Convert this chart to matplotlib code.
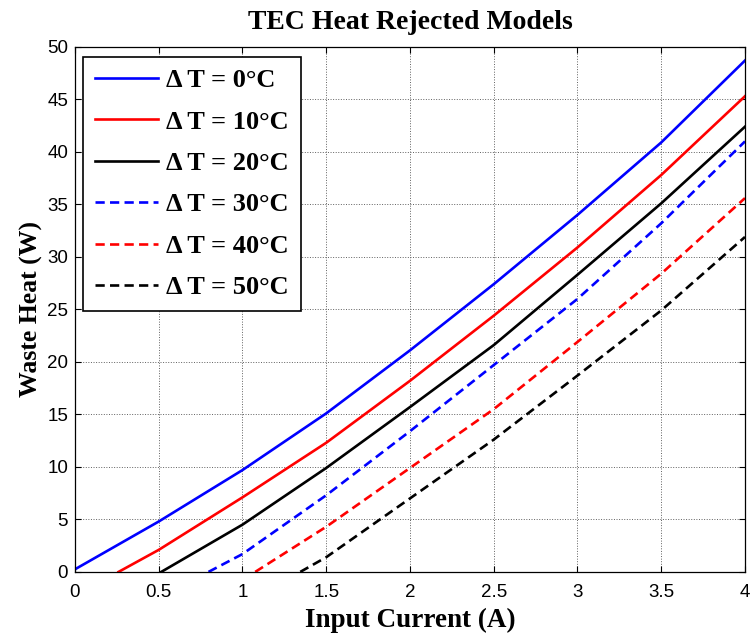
import matplotlib.pyplot as plt

# input current (A) and waste heat (W) for each temperature difference
dT_labels = ['Δ T = 0°C', 'Δ T = 10°C', 'Δ T = 20°C',
             'Δ T = 30°C', 'Δ T = 40°C', 'Δ T = 50°C']

i_0 = [0.0, 0.5, 1.0, 1.5, 2.0, 2.5, 3.0, 3.5, 4.0]
q_0 = [0.25, 4.8, 9.7, 15.1, 21.1, 27.4, 34.0, 40.9, 48.7]

i_10 = [0.26, 0.5, 1.0, 1.5, 2.0, 2.5, 3.0, 3.5, 4.0]
q_10 = [0.0, 2.1, 7.1, 12.3, 18.2, 24.4, 30.9, 37.8, 45.3]

i_20 = [0.515, 1.0, 1.5, 2.0, 2.5, 3.0, 3.5, 4.0]
q_20 = [0.0, 4.5, 9.9, 15.7, 21.6, 28.3, 35.1, 42.4]

i_30 = [0.797, 1.0, 1.5, 2.0, 2.5, 3.0, 3.5, 3.75, 4.0]
q_30 = [0.0, 1.7, 7.3, 13.4, 19.7, 26.0, 33.2, 37.1, 41.0]

i_40 = [1.076, 1.5, 2.0, 2.5, 3.0, 3.5, 4.0]
q_40 = [0.0, 4.3, 9.9, 15.5, 21.9, 28.4, 35.6]

i_50 = [1.345, 1.5, 2.0, 2.5, 3.0, 3.5, 4.0]
q_50 = [0.0, 1.4, 7.0, 12.6, 18.7, 24.9, 31.9]

currents = [i_0, i_10, i_20, i_30, i_40, i_50]
heats = [q_0, q_10, q_20, q_30, q_40, q_50]
colors = ['#0000ff', '#ff0000', '#000000', '#0000ff', '#ff0000', '#000000']
styles = ['-', '-', '-', '--', '--', '--']

serif = 'Liberation Serif'
sans = 'Liberation Sans'

fig = plt.figure(figsize=(7.5, 6.39), dpi=100)
ax = fig.add_axes([0.1, 0.105, 0.8933, 0.8216])

for x, y, c, ls, lab in zip(currents, heats, colors, styles, dT_labels):
    line, = ax.plot(x, y, color=c, linestyle=ls, linewidth=1.9, label=lab)
    if ls == '--':
        line.set_dashes((3.5, 2.0))

ax.set_xlim(0, 4)
ax.set_ylim(0, 50)
ax.set_xticks([0, 0.5, 1, 1.5, 2, 2.5, 3, 3.5, 4])
ax.set_xticklabels(['0', '0.5', '1', '1.5', '2', '2.5', '3', '3.5', '4'])
ax.set_yticks(range(0, 51, 5))

ax.grid(True, color='#606060', linestyle=':', linewidth=0.7)
ax.tick_params(direction='in', top=True, right=True, length=4, width=0.8,
               labelsize=13.5, pad=5, colors='black')
ax.tick_params(axis='x', pad=9)
for lbl in ax.get_xticklabels() + ax.get_yticklabels():
    lbl.set_fontfamily(sans)
for sp in ax.spines.values():
    sp.set_linewidth(0.9)

ax.set_title('TEC Heat Rejected Models', fontsize=20, fontweight='bold',
             family=serif, pad=13)
ax.set_xlabel('Input Current (A)', fontsize=19.5, fontweight='bold',
              family=serif, labelpad=5)
ax.set_ylabel('Waste Heat (W)', fontsize=18.5, fontweight='bold',
              family=serif, labelpad=3)

leg = ax.legend(loc='upper left', bbox_to_anchor=(0.012, 0.981),
                prop={'family': serif, 'weight': 'bold', 'size': 19},
                handlelength=2.4, handletextpad=0.3, labelspacing=0.68,
                borderpad=0.45, fancybox=False, framealpha=1,
                edgecolor='black', borderaxespad=0)
leg.get_frame().set_linewidth(1.2)

plt.savefig('out.png', dpi=100)
